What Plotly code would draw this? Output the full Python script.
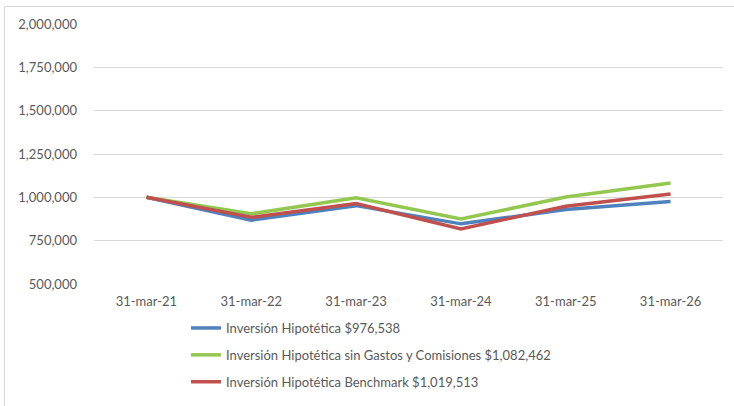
import plotly.graph_objects as go

fechas = ["31-mar-21", "31-mar-22", "31-mar-23", "31-mar-24", "31-mar-25", "31-mar-26"]
inversion = [1000000, 868000, 952000, 847000, 930000, 976538]
sin_gastos = [1000000, 905000, 997000, 875000, 1002000, 1082462]
benchmark = [1000000, 885000, 964000, 818000, 948000, 1019513]

nombres = [
    "Inversión Hipotética $976,538",
    "Inversión Hipotética sin Gastos y Comisiones $1,082,462",
    "Inversión Hipotética Benchmark $1,019,513",
]
colores = ["#4F81BD", "#92C84F", "#C0504D"]
series = [inversion, sin_gastos, benchmark]

y_ticks = [500000, 750000, 1000000, 1250000, 1500000, 1750000, 2000000]

fig = go.Figure()
for i, (nm, col, vals) in enumerate(zip(nombres, colores, series)):
    fig.add_trace(go.Scatter(
        x=fechas, y=vals, mode="lines", name=nm,
        line=dict(color=col, width=3.5),
        legendgroup=f"g{i}",
    ))

font_fam = "Lato, Noto Sans, sans-serif"
W, H = 734, 406
L, R, T, B = 94, 11, 24, 0
PLOT_BOTTOM = 284
pw, ph = W - L - R, H - T - B

def px_x(p):
    return (p - L) / pw

def px_y(p):
    return (H - B - p) / ph

fig.update_layout(
    width=W, height=H,
    margin=dict(l=L, r=R, t=T, b=B, autoexpand=False),
    paper_bgcolor="white", plot_bgcolor="white",
    font=dict(family=font_fam, size=13, color="#595959"),
    showlegend=True,
    legend=dict(
        x=px_x(186), y=px_y(313),
        xanchor="left", yanchor="top",
        tracegroupgap=7,
        font=dict(size=13, color="#595959"),
        bgcolor="rgba(0,0,0,0)",
    ),
    xaxis=dict(
        type="category", range=[-0.5, 5.5],
        showgrid=False, showline=False, zeroline=False,
        ticks="", ticklabelstandoff=8, automargin=False,
    ),
    yaxis=dict(
        domain=[px_y(PLOT_BOTTOM), 1],
        range=[500000, 2000000], tickvals=y_ticks,
        tickformat=",d",
        showgrid=True, gridcolor="#d9d9d9", gridwidth=1,
        showline=False, zeroline=False, ticks="",
        ticklabelstandoff=16, automargin=False,
    ),
    shapes=[
        dict(type="line", xref="paper", yref="paper",
             x0=px_x(4.5), x1=px_x(4.5), y0=px_y(H + 20), y1=px_y(6.5),
             line=dict(color="#d9d9d9", width=1), layer="below"),
        dict(type="line", xref="paper", yref="paper",
             x0=px_x(4.5), x1=px_x(W + 20), y0=px_y(6.5), y1=px_y(6.5),
             line=dict(color="#d9d9d9", width=1), layer="below"),
    ],
)

fig.write_html(
    "out.html",
    config={"displayModeBar": False},
    post_script="document.body.style.margin='0';document.body.style.overflow='hidden';",
)
